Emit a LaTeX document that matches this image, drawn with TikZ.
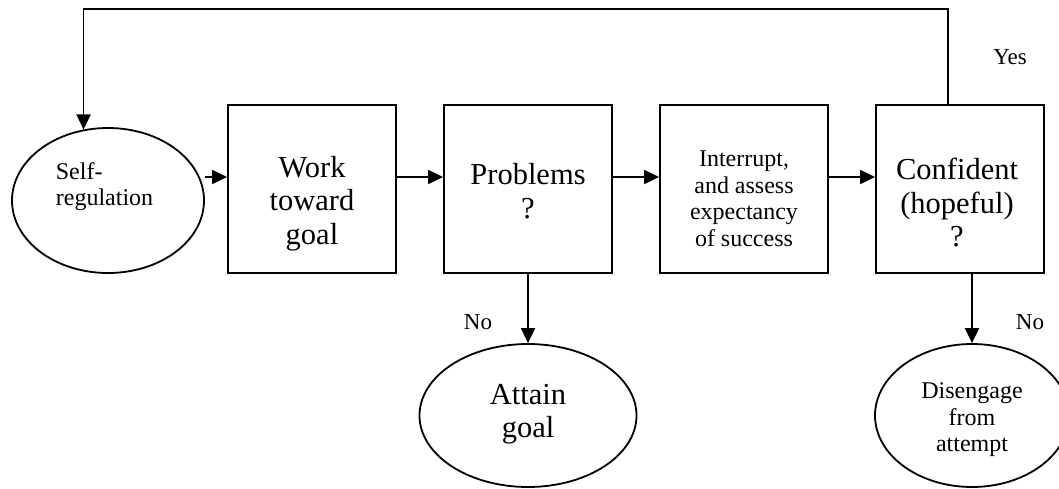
\documentclass[tikz,border=0pt]{standalone}
\usepackage{fontspec}
\setmainfont{Liberation Serif}
\usetikzlibrary{shapes.geometric,arrows.meta}
\begin{document}
\begin{tikzpicture}[x=1pt,y=-1pt,
  line width=1.8pt,
  stepbox/.style={draw,rectangle,minimum width=168pt,minimum height=168pt,inner sep=0pt},
  oval/.style={draw,ellipse,inner sep=0pt,minimum height=143pt},
  bigtxt/.style={inner sep=0pt,align=center,font=\fontsize{30.5}{33.5}\selectfont},
  smalltxt/.style={inner sep=0pt,align=center,font=\fontsize{24}{26.5}\selectfont},
  lbl/.style={inner sep=0pt,font=\fontsize{23}{26}\selectfont},
  arr/.style={-{Triangle[length=15pt,width=14pt]}}]
\useasboundingbox (0,0) rectangle (1059,488);
\clip (0,0) rectangle (1059,488);

% shapes
\node[oval,minimum width=192pt,minimum height=145pt] (selfreg) at (108,200.5) {};
\node[stepbox] (work) at (312,189) {};
\node[stepbox] (problems) at (528,189) {};
\node[stepbox] (interrupt) at (744,189) {};
\node[stepbox] (confident) at (960,189) {};
\node[oval,minimum width=217pt] (attain) at (528,415.5) {};
\node[oval,minimum width=194pt] (disengage) at (972,415.5) {};

% texts
\node[smalltxt,align=left,anchor=west] (selfregtxt) at (55,186.5) {Self-\\regulation};
\node[bigtxt] (worktxt) at (312,203.5) {Work\\toward\\goal};
\node[bigtxt] (problemstxt) at (528,191) {Problems\\?};
\node[smalltxt] (interrupttxt) at (744,199) {Interrupt,\\and assess\\expectancy\\of success};
\node[bigtxt] (confidenttxt) at (957,202.5) {Confident\\(hopeful)\\?};
\node[bigtxt] (attaintxt) at (528,414) {Attain\\goal};
\node[smalltxt] (disengagetxt) at (972,420) {Disengage\\from\\attempt};

\node[lbl] (yes) at (1010,57) {Yes};
\node[lbl] (no1) at (478,322) {No};
\node[lbl] (no2) at (1030,322) {No};

% connectors
\coordinate (workin) at ([yshift=12pt]work.west);
\draw[arr] (selfreg.east |- workin) -- (workin);
\draw[arr] ([yshift=12pt]work.east) -- ([yshift=12pt]problems.west);
\draw[arr] ([yshift=12pt]problems.east) -- ([yshift=12pt]interrupt.west);
\draw[arr] ([yshift=12pt]interrupt.east) -- ([yshift=12pt]confident.west);
\draw[arr] (problems.south) -- (attain.north);
\draw[arr] (confident.south -| disengage.north) -- (disengage.north);

\coordinate (yesout) at ([xshift=-12pt]confident.north);
\coordinate (top) at (0,9);
\draw[arr] (yesout) -- (yesout |- top) -| (selfreg.109);
\end{tikzpicture}
\end{document}
